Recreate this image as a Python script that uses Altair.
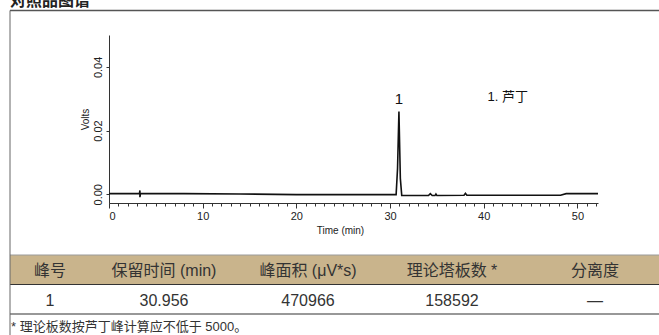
import altair as alt
import pandas as pd

# ---------------- data ----------------
chart_title = "对照品图谱"

times = [0.0, 3.25, 3.3, 3.3, 3.36, 8.0, 14.0, 20.0, 26.0, 30.65, 30.8, 30.95, 31.1, 31.25,
         34.1, 34.3, 34.5, 34.8, 34.9, 35.0, 37.9, 38.05, 38.2, 48.2, 48.8, 52.2]
volts = [0.0002, 0.0002, 0.0012, -0.0009, 0.0002, 0.0002, 0.0001, -0.0001, -0.0001, -0.0001,
         0.008, 0.026, 0.005, -0.0004, -0.0004, 0.0002, -0.0004, -0.0004, 0.0001, -0.0004,
         -0.0003, 0.0003, -0.0003, -0.0003, 0.0002, 0.0002]

x_major_ticks = [0, 10, 20, 30, 40, 50]
x_minor_ticks = list(range(0, 53))
y_ticks = [0.0, 0.01, 0.02, 0.03, 0.04, 0.05]

peak_names = ["1"]
peak_times = [30.95]
peak_heights = [0.026]

legend_labels = ["1. 芦丁"]
legend_times = [40.4]
legend_volts = [0.0293]

header_cols = ["峰号", "保留时间 (min)", "峰面积 (μV*s)", "理论塔板数 *", "分离度"]
row_vals = ["1", "30.956", "470966", "158592", "—"]
footnote = "* 理论板数按芦丁峰计算应不低于 5000。"

# ---------------- style ----------------
LAT = "Liberation Sans, Arial, sans-serif"
CJK = "Liberation Sans, Arial, Noto Sans CJK SC, sans-serif"
TXT = "#333333"
TAN = "#c9b48c"
W, H = 489, 168

trace_df = pd.DataFrame({"t": times, "v": volts, "i": list(range(len(times)))})
peak_df = pd.DataFrame({"t": peak_times, "v": peak_heights, "lab": peak_names})
leg_df = pd.DataFrame({"t": legend_times, "v": legend_volts, "lab": legend_labels})
tab_df = pd.DataFrame({"c": list(range(len(header_cols))), "h": header_cols, "r": row_vals})
one = pd.DataFrame({"k": [0]})

xscale = alt.Scale(domain=[0, 52.2], nice=False, zero=False)
yscale = alt.Scale(domain=[-0.00274, 0.05], nice=False, zero=False)

xaxis = alt.Axis(
    orient="bottom",
    values=x_major_ticks,
    tickSize=5,
    labelPadding=2,
    labelFontSize=11,
    labelOverlap=False,
    title="Time (min)",
    titleFontSize=10,
    titleFontWeight="normal",
    titleX=231,
    titleY=30,
    titleBaseline="alphabetic",
)
xaxis_minor = alt.Axis(
    orient="bottom",
    values=x_minor_ticks,
    tickSize=3,
    labels=False,
    domain=False,
    title=None,
)
yaxis = alt.Axis(
    orient="left",
    values=y_ticks,
    format=".2f",
    labelExpr="round(datum.value * 100) % 2 === 0 ? datum.label : ''",
    labelAngle=270,
    labelAlign="center",
    labelBaseline="bottom",
    labelPadding=3,
    labelFontSize=11,
    labelOverlap=False,
    tickSize=3,
    title="Volts",
    titleFontSize=10,
    titleFontWeight="normal",
    titleAngle=270,
    titleX=-24,
    titleY=84,
    titleAlign="center",
    titleBaseline="middle",
)

trace = alt.Chart(trace_df).mark_line(color="#111111", strokeWidth=1.6).encode(
    x=alt.X("t:Q", scale=xscale, axis=xaxis),
    y=alt.Y("v:Q", scale=yscale, axis=yaxis),
    order="i:Q",
)
minor = alt.Chart(trace_df).mark_point(opacity=0).encode(
    x=alt.X("t:Q", scale=xscale, axis=xaxis_minor),
    y=alt.Y("v:Q", scale=yscale),
)
peak_txt = alt.Chart(peak_df).mark_text(
    fontSize=15, font=LAT, color="#111111", baseline="alphabetic", dy=-7
).encode(x=alt.X("t:Q", axis=None), y=alt.Y("v:Q"), text="lab:N")
leg_txt = alt.Chart(leg_df).mark_text(
    fontSize=13, font=CJK, color="#111111", align="left", baseline="alphabetic"
).encode(x=alt.X("t:Q", axis=None), y=alt.Y("v:Q"), text="lab:N")

chrom = alt.layer(trace, minor, peak_txt, leg_txt).resolve_axis(x="independent", y="shared")

# ---------------- table & frame ----------------
colx = alt.Scale(domain=[0, 1, 2, 3, 4], range=[-59, 55, 199, 343, 486], nice=False, zero=False)

hdr_bg = alt.Chart(one).mark_rect(color=TAN).encode(
    x=alt.value(-99), x2=alt.value(560), y=alt.value(220), y2=alt.value(249)
)
hdr_top = alt.Chart(one).mark_rule(color="#9a9a9a", strokeWidth=1).encode(
    x=alt.value(-99), x2=alt.value(560), y=alt.value(220)
)
hdr_bot = alt.Chart(one).mark_rule(color="#333333", strokeWidth=1.2).encode(
    x=alt.value(-99), x2=alt.value(560), y=alt.value(249.5)
)
row_bot = alt.Chart(one).mark_rule(color="#333333", strokeWidth=1.2).encode(
    x=alt.value(-99), x2=alt.value(560), y=alt.value(279)
)
frame_top = alt.Chart(one).mark_rule(color="#555555", strokeWidth=1.6).encode(
    x=alt.value(-99), x2=alt.value(560), y=alt.value(-24.5)
)
frame_left = alt.Chart(one).mark_rule(color="#666666", strokeWidth=1).encode(
    x=alt.value(-99), y=alt.value(-24.5), y2=alt.value(305)
)
hdr_txt = alt.Chart(tab_df).mark_text(fontSize=16, font=CJK, color=TXT, baseline="middle").encode(
    x=alt.X("c:Q", scale=colx, axis=None), y=alt.value(235.5), text="h:N"
)
row_txt = alt.Chart(tab_df).mark_text(fontSize=16, font=CJK, color=TXT, baseline="middle").encode(
    x=alt.X("c:Q", scale=colx, axis=None), y=alt.value(265.5), text="r:N"
)
foot_txt = alt.Chart(one).mark_text(
    fontSize=13, font=CJK, color=TXT, align="left", baseline="middle"
).encode(x=alt.value(-98), y=alt.value(292), text=alt.value(footnote))
title_txt = alt.Chart(one).mark_text(
    fontSize=16, font=CJK, fontWeight="bold", color="#222222", align="left", baseline="alphabetic"
).encode(x=alt.value(-99), y=alt.value(-29), text=alt.value(chart_title))

table = alt.layer(hdr_bg, hdr_top, hdr_bot, row_bot, frame_top, frame_left,
                  hdr_txt, row_txt, foot_txt, title_txt)

chart = alt.layer(table, chrom).resolve_scale(x="independent", y="independent").properties(
    width=W,
    height=H,
    padding={"left": 109, "top": 35, "right": 61, "bottom": 132},
    autosize=alt.AutoSizeParams(type="none"),
).configure_view(stroke=None).configure_axis(
    domainColor="#333333",
    tickColor="#333333",
    labelColor="#222222",
    titleColor="#222222",
    labelFont=LAT,
    titleFont=LAT,
    grid=False,
)

chart.save("out.html", embed_options={"renderer": "svg", "actions": False})
